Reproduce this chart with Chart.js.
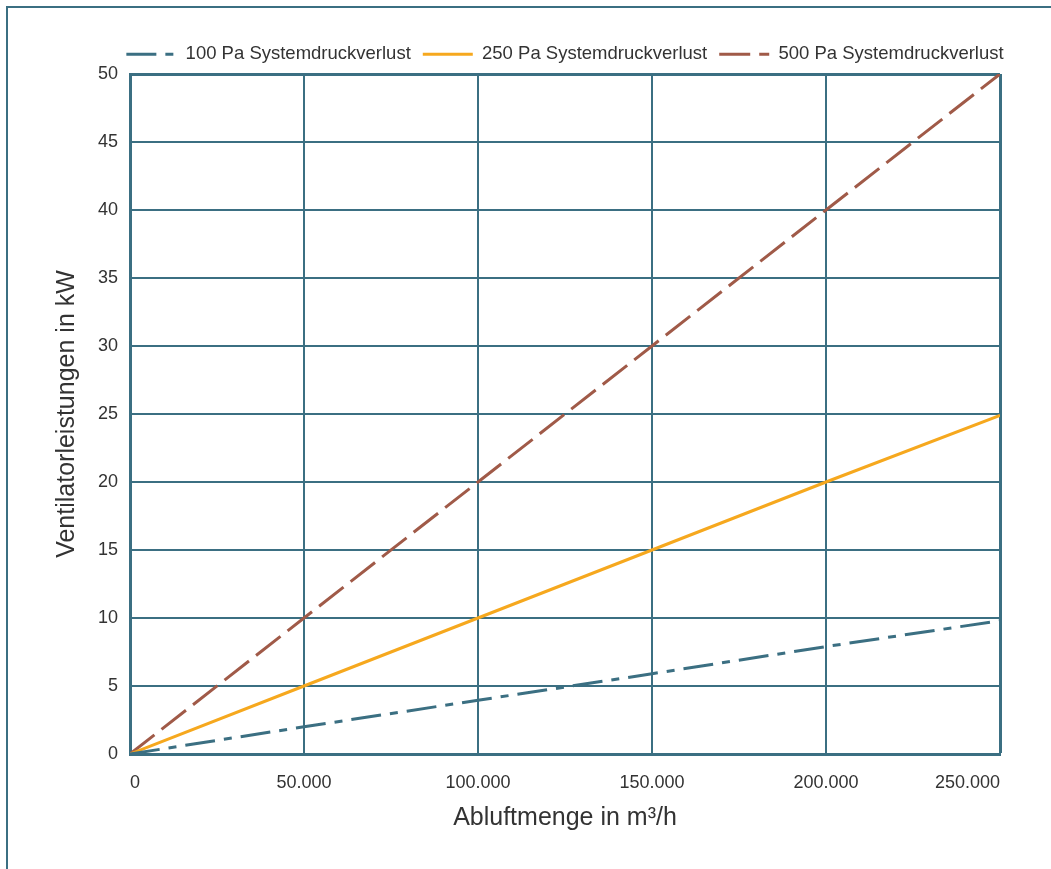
<!DOCTYPE html>
<html>
<head>
<meta charset="utf-8">
<script src="https://cdn.jsdelivr.net/npm/chart.js@4"></script>
<style>
    html, body { margin: 0; padding: 0; background: #fff; overflow: hidden; }
    #frame {
        position: absolute; left: 6px; top: 6px; width: 1100px; height: 900px;
        border-left: 2px solid #3b6f82; border-top: 2px solid #3b6f82;
    }
    #wrap { position: absolute; left: 0; top: 0; width: 1051px; height: 869px; }
</style>
</head>
<body>
<div id="frame"></div>
<div id="wrap"><canvas id="fanChart" width="1051" height="869"></canvas></div>
<script>
// Abluftmenge (m³/h)
const airflow = [0, 50000, 100000, 150000, 200000, 250000];
// Ventilatorleistung (kW) per Systemdruckverlust
const power100 = [0, 2, 3.95, 5.9, 7.9, 9.8];
const power250 = [0, 5, 10, 15, 20, 24.9];
const power500 = [0, 10, 20, 30, 40, 50];
const seriesLabels = ['100 Pa Systemdruckverlust', '250 Pa Systemdruckverlust', '500 Pa Systemdruckverlust'];

const teal = '#3b6f82';
const textColor = '#333333';
const fontFamily = "'Liberation Sans', Arial, sans-serif";

function toPoints(values) {
    return airflow.map((x, i) => ({ x: x, y: values[i] }));
}

function formatThousands(v) {
    return String(v).replace(/\B(?=(\d{3})+(?!\d))/g, '.');
}

// keep the legend on one row above the plot, with a fixed height
const legendLayout = {
    id: 'legendLayout',
    beforeInit(chart) {
        const origFit = chart.legend.fit;
        chart.legend.fit = function () {
            this.maxWidth = Math.max(this.maxWidth, 1000);
            origFit.call(this);
            this.height = 41;
        };
    },
    afterLayout(chart) {
        const l = chart.legend;
        const grow = 50;
        l.left = chart.chartArea.left - grow;
        l.right = chart.chartArea.right + grow;
        l.width = l.right - l.left;
    }
};

const ctx = document.getElementById("fanChart").getContext("2d");

window.fanChart = new Chart(ctx, {
    type: 'line',
    data: {
        datasets: [{
            label: seriesLabels[0],
            data: toPoints(power100),
            borderColor: teal,
            borderWidth: 3,
            borderDash: [30, 9, 8, 9],
            pointRadius: 0,
            fill: false
        }, {
            label: seriesLabels[1],
            data: toPoints(power250),
            borderColor: '#f6a81e',
            borderWidth: 3,
            pointRadius: 0,
            fill: false
        }, {
            label: seriesLabels[2],
            data: toPoints(power500),
            borderColor: '#a05a48',
            borderWidth: 3,
            borderDash: [31, 9],
            pointRadius: 0,
            fill: false
        }]
    },
    plugins: [legendLayout],
    options: {
        responsive: false,
        animation: false,
        layout: { padding: { left: 0, right: 51, top: 33, bottom: 0 } },
        plugins: {
            legend: {
                position: 'top',
                fullSize: false,
                labels: {
                    usePointStyle: true,
                    pointStyle: 'line',
                    pointStyleWidth: 50,
                    padding: 12,
                    color: textColor,
                    font: { family: fontFamily, size: 18.5 },
                    generateLabels: chart => Chart.defaults.plugins.legend.labels.generateLabels(chart).map(item => {
                        const ds = chart.data.datasets[item.datasetIndex];
                        item.lineDash = ds.borderDash || [];
                        item.lineWidth = 3;
                        item.strokeStyle = ds.borderColor;
                        return item;
                    })
                }
            },
            tooltip: { enabled: false }
        },
        scales: {
            x: {
                type: 'linear',
                min: 0,
                max: 250000,
                ticks: {
                    stepSize: 50000,
                    padding: 18,
                    align: 'inner',
                    color: textColor,
                    font: { family: fontFamily, size: 18 },
                    maxRotation: 0,
                    callback: v => formatThousands(v)
                },
                grid: {
                    color: teal,
                    lineWidth: c => (c.tick && c.tick.value === 250000 ? 3 : 2),
                    drawTicks: false
                },
                border: { color: teal, width: 3 },
                title: {
                    display: true,
                    text: 'Abluftmenge in m³/h',
                    color: textColor,
                    font: { family: fontFamily, size: 25 },
                    padding: { top: 4, bottom: 36 }
                },
                afterFit: s => { s.height = 115; }
            },
            y: {
                min: 0,
                max: 50,
                ticks: {
                    stepSize: 5,
                    padding: 12,
                    color: textColor,
                    font: { family: fontFamily, size: 18 }
                },
                grid: {
                    color: teal,
                    lineWidth: c => (c.tick && c.tick.value === 50 ? 3 : 2),
                    drawTicks: false
                },
                border: { color: teal, width: 3 },
                title: {
                    display: true,
                    text: 'Ventilatorleistungen in kW',
                    color: textColor,
                    font: { family: fontFamily, size: 25 },
                    padding: { top: 52, bottom: 0 }
                },
                afterFit: s => { s.width = 130; }
            }
        }
    }
});
</script>
</body>
</html>
